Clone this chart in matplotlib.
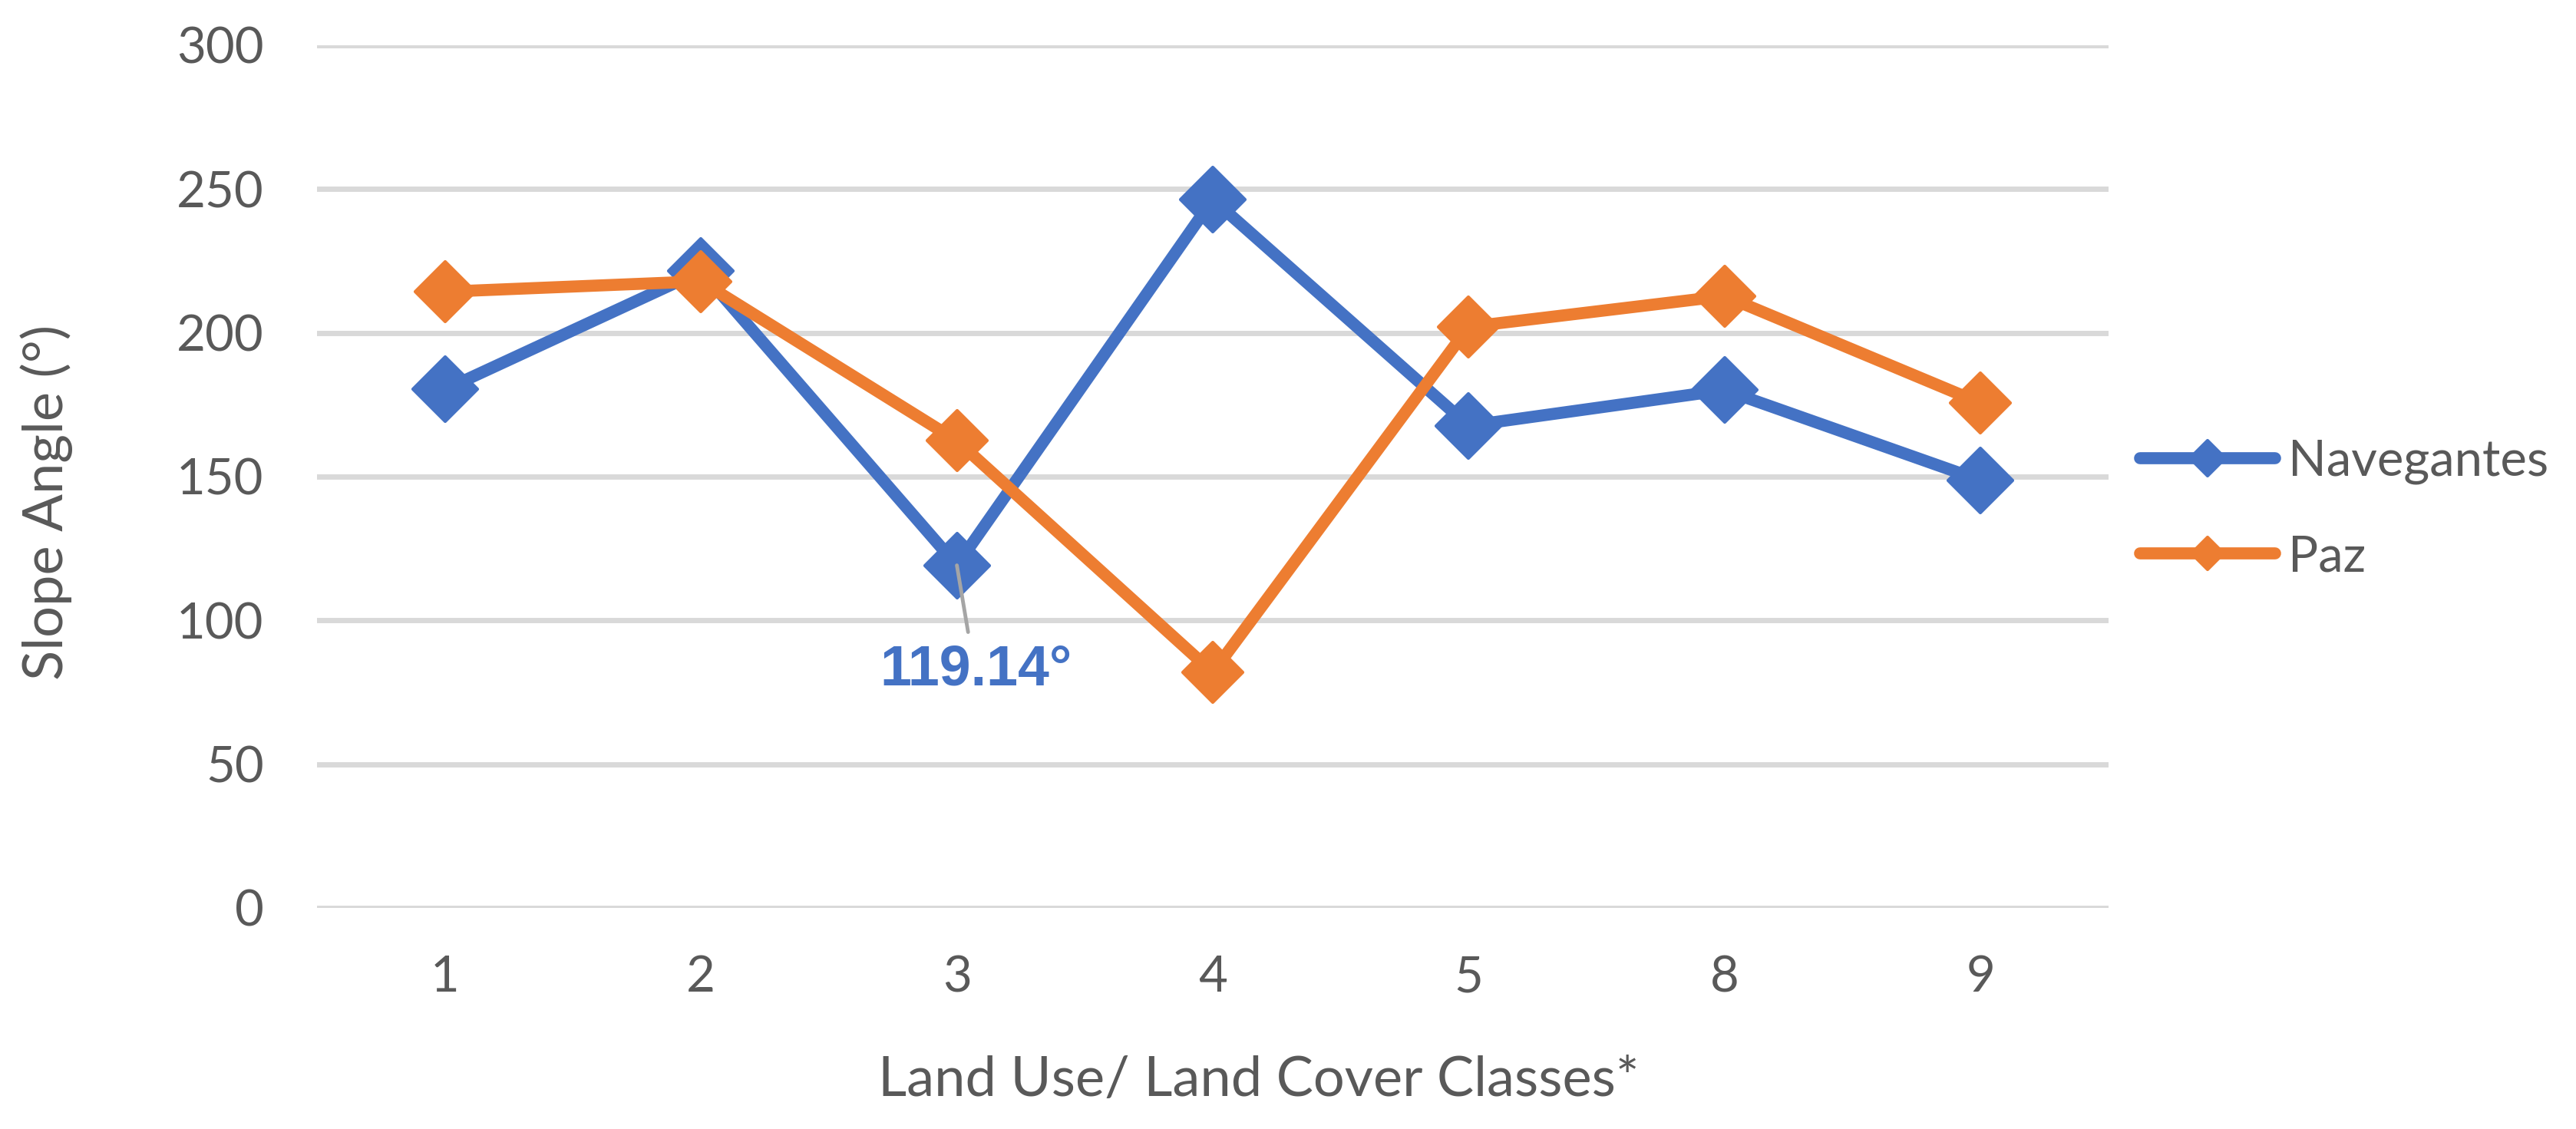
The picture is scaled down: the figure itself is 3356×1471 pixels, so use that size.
import numpy as np
import matplotlib
matplotlib.use('Agg')
from matplotlib import pyplot as plt
from matplotlib.markers import MarkerStyle

plt.rcParams.update({'font.family': ['Lato', 'DejaVu Sans']})

# data
classes = ['1', '2', '3', '4', '5', '8', '9']
navegantes = [180.3, 221.5, 119.14, 246.4, 167.7, 180.1, 148.7]
paz = [214.3, 217.9, 162.5, 81.9, 202.1, 212.8, 175.6]
y_ticks = [0, 50, 100, 150, 200, 250, 300]

blue = '#4472C4'
orange = '#ED7D31'
grey_txt = '#595959'

fig = plt.figure(figsize=(33.56, 14.71), dpi=100)
ax = fig.add_axes([0.1231, 0.1958, 0.6954, 0.7641])

x = np.arange(len(classes))

diamond = MarkerStyle('D', joinstyle='round')
ax.plot(x, navegantes, color=blue, lw=11.3, marker=diamond, ms=43,
        mew=3, mec=blue, mfc=blue, solid_joinstyle='round',
        solid_capstyle='round', label='Navegantes', zorder=3)
ax.plot(x, paz, color=orange, lw=11.3, marker=diamond, ms=39.5,
        mew=3, mec=orange, mfc=orange, solid_joinstyle='round',
        solid_capstyle='round', label='Paz', zorder=4)

ax.set_xlim(-0.5, len(classes) - 0.5)
ax.set_ylim(0, 300)
ax.set_yticks(y_ticks)
ax.set_xticks(x)
ax.set_xticklabels(classes)
ax.grid(axis='y', color='#D9D9D9', lw=5)
ax.set_axisbelow(True)
ax.tick_params(axis='both', length=0, labelsize=47, colors=grey_txt)
ax.tick_params(axis='y', pad=50)
ax.tick_params(axis='x', pad=44)
for s in ax.spines.values():
    s.set_visible(False)

# data label on class 3
ax.annotate(f'{navegantes[2]:.2f}°', xy=(x[2], navegantes[2]),
            xytext=(2.074, 82.7), textcoords='data',
            ha='center', va='center', fontsize=53, fontweight='bold',
            family=['Liberation Sans', 'DejaVu Sans'], color=blue,
            arrowprops=dict(arrowstyle='-', color='#A5A5A5', lw=3.5,
                            shrinkA=9, shrinkB=0, relpos=(0.47, 1.0)),
            zorder=6)

fig.text(0.0182, 0.555, 'Slope Angle (°)', rotation=90, ha='center',
         va='center', fontsize=52, color=grey_txt)
fig.text(0.4887, 0.0292, 'Land Use/ Land Cover Classes*', ha='center',
         va='baseline', fontsize=52, color=grey_txt)

leg = ax.legend(loc='center left', bbox_to_anchor=(0.8308, 0.549),
                bbox_transform=fig.transFigure, frameon=False,
                fontsize=47, markerscale=0.55, handlelength=2.7,
                handletextpad=0.25, labelspacing=1.0, borderpad=0,
                borderaxespad=0)
for t in leg.get_texts():
    t.set_color(grey_txt)

plt.savefig('out.png', dpi=100, facecolor='white')
